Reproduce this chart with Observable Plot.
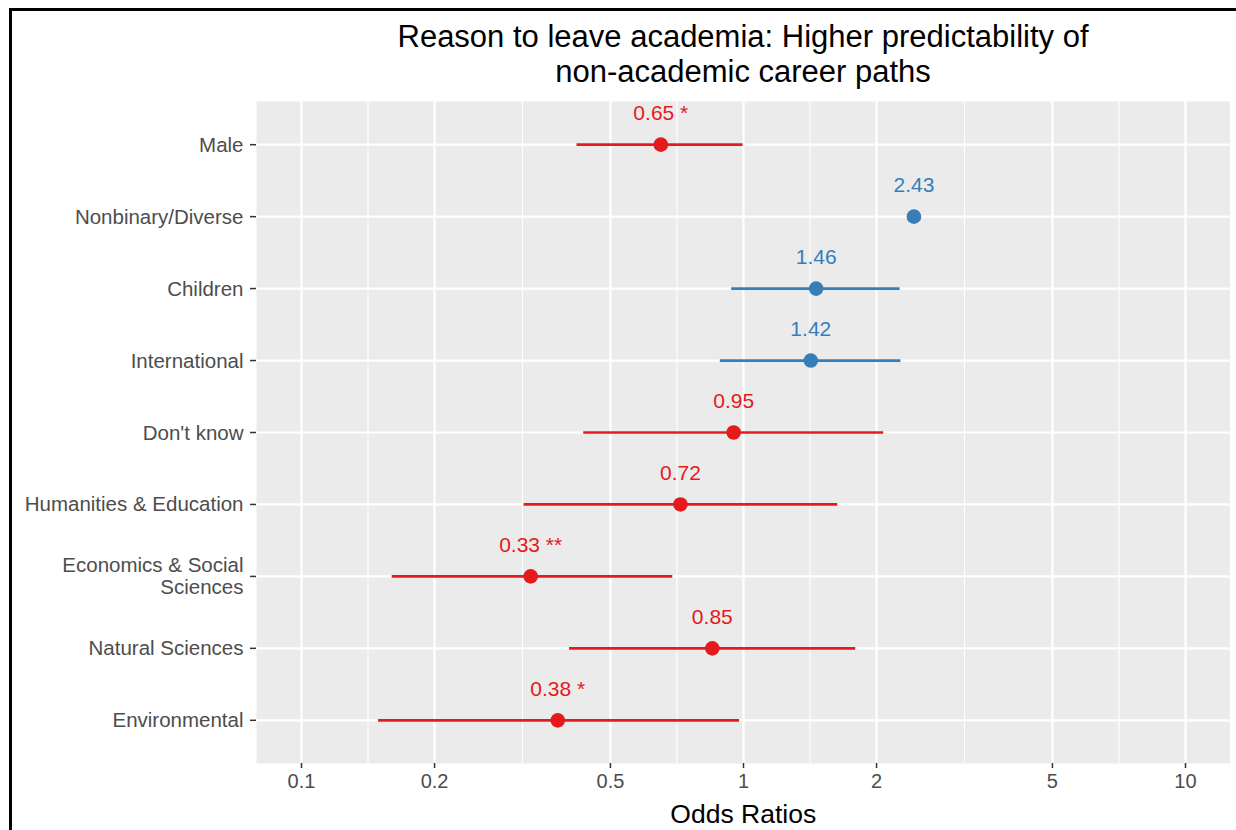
<!DOCTYPE html>
<html>
<head>
<meta charset="utf-8">
<script src="https://cdn.jsdelivr.net/npm/d3@7"></script>
<script src="https://cdn.jsdelivr.net/npm/@observablehq/plot@0.6"></script>
<style>
  html, body { margin: 0; padding: 0; background: white; }
  #wrap { position: relative; width: 1236px; height: 830px; overflow: hidden; background: white; font-family: "Liberation Sans", Arial, sans-serif; }
  #border { position: absolute; left: 9px; top: 8px; width: 1300px; height: 900px; border-left: 3px solid black; border-top: 3px solid black; box-sizing: border-box; pointer-events: none; }
  #title { position: absolute; left: 256px; width: 974px; top: 20px; text-align: center; font-size: 31px; line-height: 34.5px; color: black; }
  #chart { position: absolute; left: 0; top: 100px; }
</style>
</head>
<body>
<div id="wrap">
  <div id="title">Reason to leave academia: Higher predictability of<br>non-academic career paths</div>
  <div id="chart"></div>
  <div id="border"></div>
</div>
<script>
const categories = ["Male", "Nonbinary/Diverse", "Children", "International", "Don't know", "Humanities & Education", "Economics & Social\nSciences", "Natural Sciences", "Environmental"];
const oddsRatios = [0.65, 2.43, 1.46, 1.42, 0.95, 0.72, 0.33, 0.85, 0.38];
const ciLow = [0.419, null, 0.938, 0.884, 0.434, 0.318, 0.16, 0.403, 0.149];
const ciHigh = [0.995, null, 2.255, 2.265, 2.07, 1.63, 0.69, 1.79, 0.977];
const valueLabels = ["0.65 *", "2.43", "1.46", "1.42", "0.95", "0.72", "0.33 **", "0.85", "0.38 *"];
const xTicks = [0.1, 0.2, 0.5, 1, 2, 5, 10];
const xTickLabels = ["0.1", "0.2", "0.5", "1", "2", "5", "10"];
const xMinor = [0.1414, 0.3162, 0.7071, 1.4142, 3.1623, 7.0711];

const rows = categories.map((c, i) => ({
  cat: c, or: oddsRatios[i], lo: ciLow[i], hi: ciHigh[i], label: valueLabels[i],
  dir: oddsRatios[i] > 1 ? "up" : "down"
}));
const tickRows = xTicks.map((v, i) => ({ v, t: xTickLabels[i] }));

const chart = Plot.plot({
  width: 1236,
  height: 730,
  marginTop: 1,
  marginBottom: 67,
  marginLeft: 256,
  marginRight: 6.5,
  style: { fontFamily: "'Liberation Sans', Arial, sans-serif", background: "transparent", overflow: "visible" },
  x: { type: "log", domain: [0.0791, 12.61], label: null },
  y: { type: "point", domain: categories, padding: 0.6, round: false, label: null },
  color: { domain: ["down", "up"], range: ["#E41A1C", "#377EB8"] },
  marks: [
    Plot.frame({ fill: "#EBEBEB", stroke: null }),
    Plot.ruleX(xMinor, { stroke: "white", strokeWidth: 1.1 }),
    Plot.ruleX(xTicks, { stroke: "white", strokeWidth: 2.2 }),
    Plot.ruleY(categories, { stroke: "white", strokeWidth: 2.2 }),
    Plot.axisX({ ticks: xTicks, tickSize: 5, text: null, stroke: "#333333", strokeWidth: 1.5, label: null }),
    Plot.text(tickRows, { x: "v", text: "t", frameAnchor: "bottom", lineAnchor: "top", dy: 10, fontSize: 20, fill: "#4D4D4D" }),
    Plot.axisY({ tickSize: 6, tickPadding: 7, fontSize: 20.5, fill: "#4D4D4D", stroke: "#333333", strokeWidth: 1.5, label: null, lineHeight: 1.07 }),
    Plot.link(rows.filter(d => d.lo != null), { x1: "lo", x2: "hi", y1: "cat", y2: "cat", stroke: "dir", strokeWidth: 2.7 }),
    Plot.dot(rows, { x: "or", y: "cat", r: 7.3, fill: "dir", stroke: null }),
    Plot.text(rows, { x: "or", y: "cat", text: "label", dy: -31, fill: "dir", fontSize: 21 }),
    Plot.text(["Odds Ratios"], { frameAnchor: "bottom", dy: 59, fontSize: 26.5, fill: "black" })
  ]
});
document.getElementById("chart").appendChild(chart);
</script>
</body>
</html>
